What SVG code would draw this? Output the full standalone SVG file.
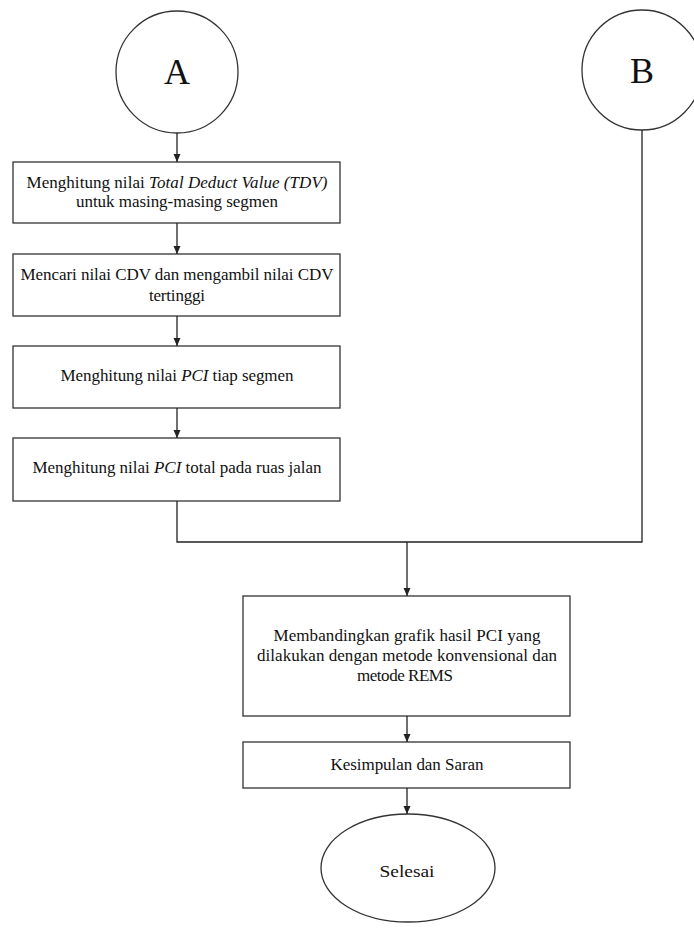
<svg xmlns="http://www.w3.org/2000/svg" width="694" height="929" viewBox="0 0 694 929">
<style>
.s{fill:#fff;stroke:#333;stroke-width:1.3}
.t{font-family:"Liberation Serif","Times New Roman",serif;font-size:17px;fill:#111;text-anchor:middle}
.big{font-size:36px}
.c{fill:none;stroke:#222;stroke-width:1.3}
</style>
<defs>
<marker id="ah" viewBox="0 0 8 8" refX="8" refY="4" markerWidth="8" markerHeight="8" markerUnits="userSpaceOnUse" orient="auto">
<path d="M0,0.5 L8,4 L0,7.5 Z" fill="#222"/>
</marker>
</defs>
<rect width="694" height="929" fill="#fff"/>
<g id="A">
<circle class="s" cx="177" cy="72" r="61"/>
<text class="t big" x="177" y="84">A</text>
</g>
<g id="B">
<circle class="s" cx="642" cy="70" r="60"/>
<text class="t big" x="642" y="83">B</text>
</g>
<g id="n1">
<rect class="s" x="13" y="162" width="327" height="61"/>
<text class="t" x="177" y="188" textLength="301" lengthAdjust="spacing">Menghitung nilai <tspan font-style="italic">Total Deduct Value (TDV)</tspan></text>
<text class="t" x="177" y="207" textLength="202" lengthAdjust="spacing">untuk masing-masing segmen</text>
</g>
<g id="n2">
<rect class="s" x="13" y="254" width="327" height="62"/>
<text class="t" x="177" y="280" textLength="313" lengthAdjust="spacing">Mencari nilai CDV dan mengambil nilai CDV</text>
<text class="t" x="177" y="301" textLength="56" lengthAdjust="spacing">tertinggi</text>
</g>
<g id="n3">
<rect class="s" x="13" y="346" width="327" height="62"/>
<text class="t" x="177" y="381" textLength="233" lengthAdjust="spacing">Menghitung nilai <tspan font-style="italic">PCI</tspan> tiap segmen</text>
</g>
<g id="n4">
<rect class="s" x="13" y="438" width="327" height="63"/>
<text class="t" x="177" y="473" textLength="289" lengthAdjust="spacing">Menghitung nilai <tspan font-style="italic">PCI</tspan> total pada ruas jalan</text>
</g>
<g id="n5">
<rect class="s" x="243" y="596" width="327" height="120"/>
<text class="t" x="407" y="641" textLength="267" lengthAdjust="spacing">Membandingkan grafik hasil PCI yang</text>
<text class="t" x="407" y="661" textLength="300" lengthAdjust="spacing">dilakukan dengan metode konvensional dan</text>
<text class="t" x="405" y="681" textLength="96" lengthAdjust="spacing">metode REMS</text>
</g>
<g id="n6">
<rect class="s" x="243" y="742" width="327" height="46"/>
<text class="t" x="407" y="770" textLength="153" lengthAdjust="spacing">Kesimpulan dan Saran</text>
</g>
<g id="end">
<ellipse class="s" cx="408" cy="868" rx="87" ry="54"/>
<text class="t" x="407" y="877" font-size="19" textLength="55" lengthAdjust="spacingAndGlyphs">Selesai</text>
</g>
<g id="connectors">
<path class="c" d="M177,133 V162" marker-end="url(#ah)"/>
<path class="c" d="M177,223 V254" marker-end="url(#ah)"/>
<path class="c" d="M177,316 V346" marker-end="url(#ah)"/>
<path class="c" d="M177,408 V438" marker-end="url(#ah)"/>
<path class="c" d="M177,501 V542 H642 V130"/>
<path class="c" d="M407,542 V596" marker-end="url(#ah)"/>
<path class="c" d="M407,716 V742" marker-end="url(#ah)"/>
<path class="c" d="M407,788 V814" marker-end="url(#ah)"/>
</g>
</svg>
